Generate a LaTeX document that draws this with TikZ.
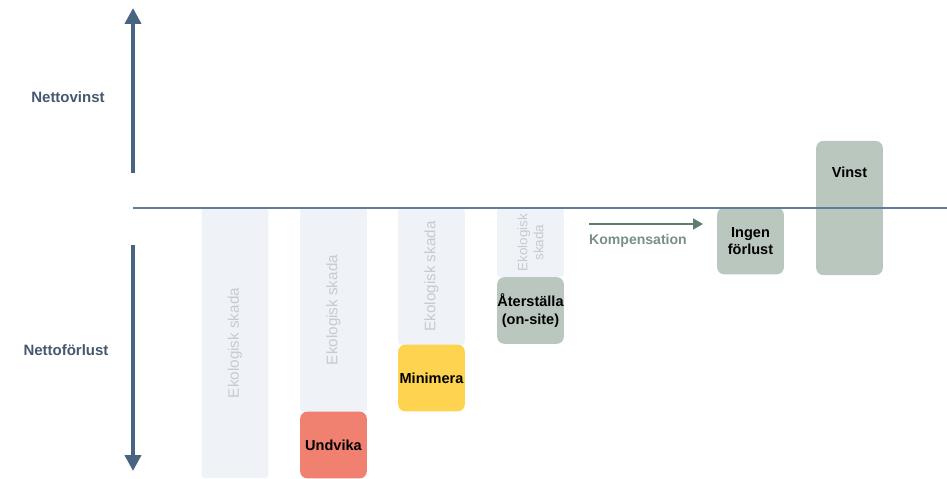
\documentclass[tikz,border=0pt]{standalone}
\usepackage{fontspec}
\setmainfont{Liberation Sans}
\usepackage{tikz}
\usetikzlibrary{arrows.meta, positioning}
\definecolor{cAxis}{RGB}{72,100,128}
\definecolor{cLine}{RGB}{95,125,155}
\definecolor{cLabel}{RGB}{70,88,112}
\definecolor{cSkada}{RGB}{239,242,247}
\definecolor{cSkadaTxt}{RGB}{198,203,211}
\definecolor{cRed}{RGB}{240,128,112}
\definecolor{cYellow}{RGB}{253,211,80}
\definecolor{cSage}{RGB}{186,199,191}
\definecolor{cKomp}{RGB}{96,124,110}
\tikzset{
	skada/.style   ={rectangle, rounded corners=3pt, fill=cSkada, minimum width=2.0cm, text=cSkadaTxt, font=\fontsize{13}{14}\selectfont, align=center, inner sep=1pt},
	atgard/.style  ={rectangle, rounded corners=6pt, minimum width=2.0cm, minimum height=2.0cm, inner xsep=0pt, align=center, font=\bfseries\fontsize{12.4}{15}\selectfont},
	axarrow/.style ={line width=3.4pt, cAxis, -{Triangle[length=4.8mm, width=4.8mm]}},
	sidelabel/.style={font=\bfseries\fontsize{12.8}{14}\selectfont, text=cLabel},
}
\begin{document}
\begin{tikzpicture}[x=0.03cm, y=-0.03cm]
	\useasboundingbox (0,0) rectangle (947,479);
	% skada columns
	\node[skada, minimum height=8.1cm] (s1) at (235,343) {\rotatebox{90}{Ekologisk skada}};
	\node[skada, minimum height=6.12cm] (s2) at (333.5,310) {\rotatebox{90}{Ekologisk skada}};
	\node[skada, minimum height=4.11cm] (s3) at (431.5,276.5) {\rotatebox{90}{Ekologisk skada}};
	\node[skada, minimum height=2.07cm, font=\fontsize{11.5}{11}\selectfont] (s4) at (530.5,242.5) {\rotatebox{90}{\shortstack{Ekologisk\\skada}}};
	% measures
	\node[atgard, fill=cRed] (undvika) at (333.5,445) {Undvika};
	\node[atgard, fill=cYellow] (minimera) at (431.5,378) {Minimera};
	\node[atgard, fill=cSage] (aterst) at (530.5,310.5) {Återställa\\(on-site)};
	\node[atgard, fill=cSage] (ingen) at (750.5,241) {Ingen\\förlust};
	\node[atgard, fill=cSage, minimum height=4.02cm] (vinst) at (849.5,208) {};
	\node[font=\bfseries\fontsize{12.4}{14}\selectfont, below=0.65cm of vinst.north] (vinsttxt) {Vinst};
	% axes
	\coordinate (o) at (133,208);
	\coordinate (oe) at (947,208);
	\coordinate (up0) at (133,173);
	\coordinate (up1) at (133,8);
	\coordinate (dn0) at (133,245);
	\coordinate (dn1) at (133,471);
	\draw[cLine, line width=1pt] (o) -- (oe);
	\draw[axarrow] (up0) -- (up1);
	\draw[axarrow] (dn0) -- (dn1);
	\node[sidelabel] (netvin) at (68,97) {Nettovinst};
	\node[sidelabel] (netfor) at (66,350) {Nettoförlust};
	% kompensation
	\coordinate (k0) at (589,224);
	\coordinate (k1) at (703,224);
	\draw[cKomp, line width=2.4pt, -{Triangle[length=3mm, width=3.2mm]}] (k0) -- (k1);
	\node[font=\bfseries\fontsize{12}{14}\selectfont, text=cKomp!85] (komp) at (638,241) {Kompensation};
\end{tikzpicture}
\end{document}
